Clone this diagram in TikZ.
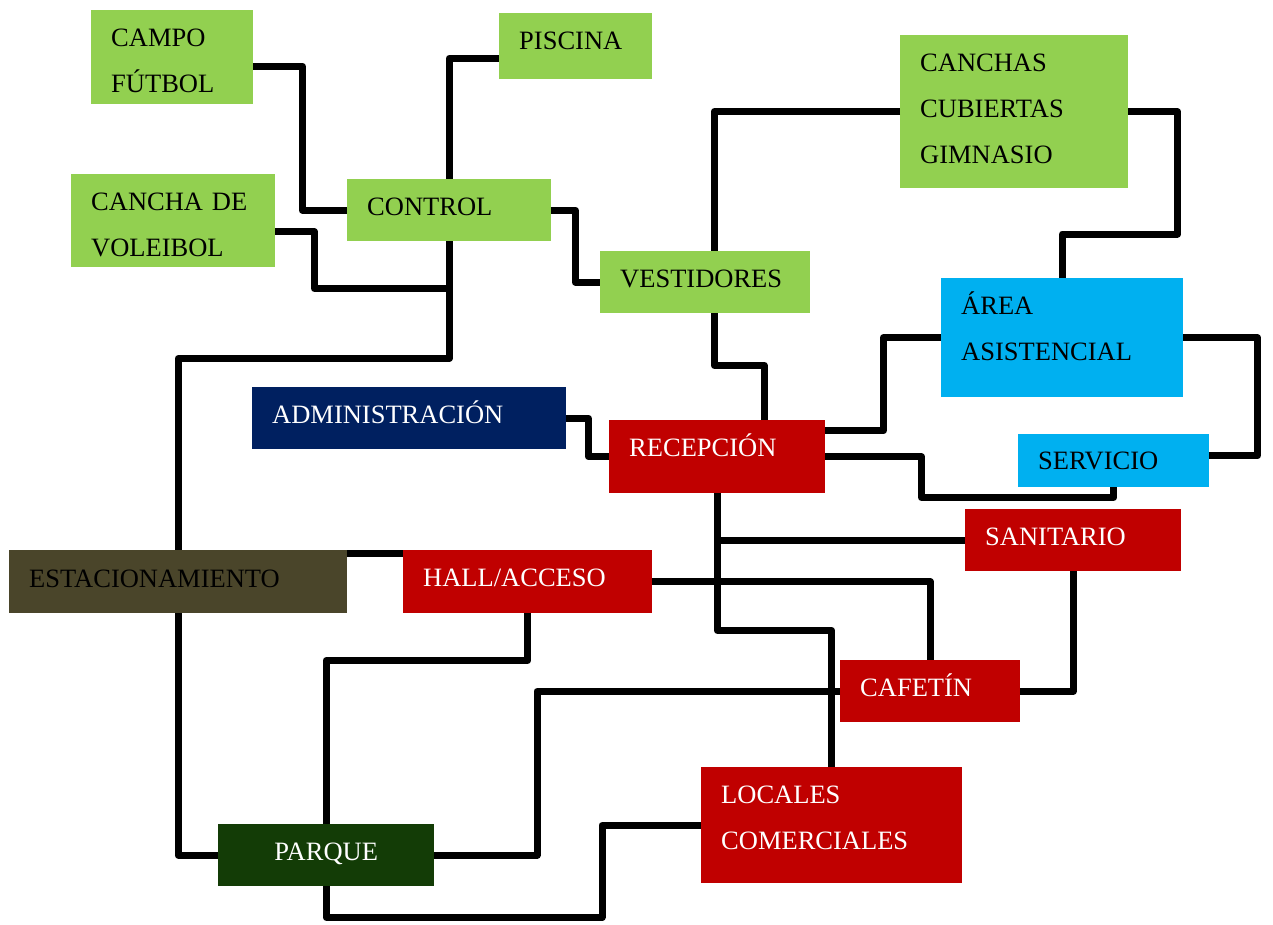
\documentclass[tikz,border=0pt]{standalone}
\usepackage{fontspec}
\setmainfont{Liberation Serif}
\hyphenpenalty=10000
\definecolor{verde}{HTML}{92D050}
\definecolor{celeste}{HTML}{00B0F0}
\definecolor{rojo}{HTML}{C00000}
\definecolor{marino}{HTML}{002060}
\definecolor{oliva}{HTML}{4A452A}
\definecolor{bosque}{HTML}{133C06}

\begin{document}
\begin{tikzpicture}[x=1pt, y=-1pt,
	room/.style={anchor=north west, inner xsep=20pt, inner ysep=0pt, align=left, text height=36pt, font=\fontsize{26.5}{46}\selectfont},
	sport/.style={room, fill=verde, text=black},
	care/.style={room, fill=celeste, text=black},
	public/.style={room, fill=rojo, text=white},
	link/.style={line width=7pt, line join=round}]

		\useasboundingbox (0,0) rectangle (1273,924);

		\node[sport, text width=122pt, text depth=58pt] (campo) at (91,10) {CAMPO\\FÚTBOL};
		\node[sport, text width=113pt, text depth=30pt] (piscina) at (499,13) {PISCINA};
		\node[sport, text width=188pt, text depth=117pt] (canchas) at (900,35) {CANCHAS\\CUBIERTAS\\GIMNASIO};
		\node[sport, text width=164pt, text depth=57pt] (voleibol) at (71,174) {CANCHA DE\\VOLEIBOL};
		\node[sport, text width=164pt, text depth=26pt] (control) at (347,179) {CONTROL};
		\node[sport, text width=170pt, text depth=26pt] (vestidores) at (600,251) {VESTIDORES};
		\node[care, text width=202pt, text depth=83pt] (area) at (941,278) {ÁREA\\ASISTENCIAL};
		\node[room, fill=marino, text=white, text width=274pt, text depth=26pt] (admin) at (252,387) {ADMINISTRACIÓN};
		\node[public, text width=176pt, text depth=37pt] (recepcion) at (609,420) {RECEPCIÓN};
		\node[care, text width=151pt, text height=35pt, text depth=18pt] (servicio) at (1018,434) {SERVICIO};
		\node[public, text width=176pt, text depth=26pt] (sanitario) at (965,509) {SANITARIO};
		\node[room, fill=oliva, text=black, text width=298pt, text height=37pt, text depth=26pt] (estac) at (9,550) {ESTACIONAMIENTO};
		\node[public, text width=209pt, text depth=27pt] (hall) at (403,550) {HALL/ACCESO};
		\node[public, text width=140pt, text depth=26pt] (cafetin) at (840,660) {CAFETÍN};
		\node[public, text width=221pt, text depth=80pt] (locales) at (701,767) {LOCALES\\COMERCIALES};
		\node[room, fill=bosque, text=white, align=center, text width=176pt, text depth=26pt] (parque) at (218,824) {PARQUE};

		% conexiones
		\draw[link] ([yshift=-9pt]campo.east) -- ++(49,0) |- (control.west);
		\draw[link] ([yshift=-12pt]piscina.west) -| (control.north);
		\draw[link] (control.east) -- ++(24,0) |- (vestidores.west);
		\draw[link] ([yshift=-11pt]voleibol.east) -- ++(39,0) |- ([yshift=-47pt]control.south);
		\draw[link] (control.south) -- ++(0,117) -| (estac.north);
		\draw[link] (estac.south) |- (parque.west);
		\draw[link] ([yshift=-3pt]estac.north east) -- ([yshift=-3pt]hall.north west);
		\draw[link] (hall.south) -- ++(0,47) -| (parque.north);
		\draw[link] (parque.south) -- ++(0,31) -| ([xshift=-99pt]locales.west) -- (locales.west);
		\draw[link] (cafetin.west) -- ++(-303,0) |- (parque.east);
		\draw[link] (sanitario.south) |- (cafetin.east);
		\draw[link] (hall.east) -| (cafetin.north);
		\draw[link] (recepcion.south) -- ++(0,137) -| (locales.north);
		\draw[link] (recepcion.south) |- (sanitario.west);
		\draw[link] (admin.east) -- ++(22,0) |- (recepcion.west);
		\draw[link] ([yshift=26pt]recepcion.east) -- ++(58,0) |- (area.west);
		\draw[link] (recepcion.east) -- ++(96,0) |- ([yshift=-10pt]servicio.south) -- (servicio.south);
		\draw[link] (area.east) -- ++(74,0) |- ([yshift=5pt]servicio.east);
		\draw[link] (canchas.west) -| ([xshift=9pt]vestidores.north);
		\draw[link] ([xshift=9pt]vestidores.south) -- ++(0,52) -| ([xshift=47pt]recepcion.north);
		\draw[link] (canchas.east) -- ++(49,0) |- ([yshift=44pt]area.north) -- (area.north);

\end{tikzpicture}
\end{document}
